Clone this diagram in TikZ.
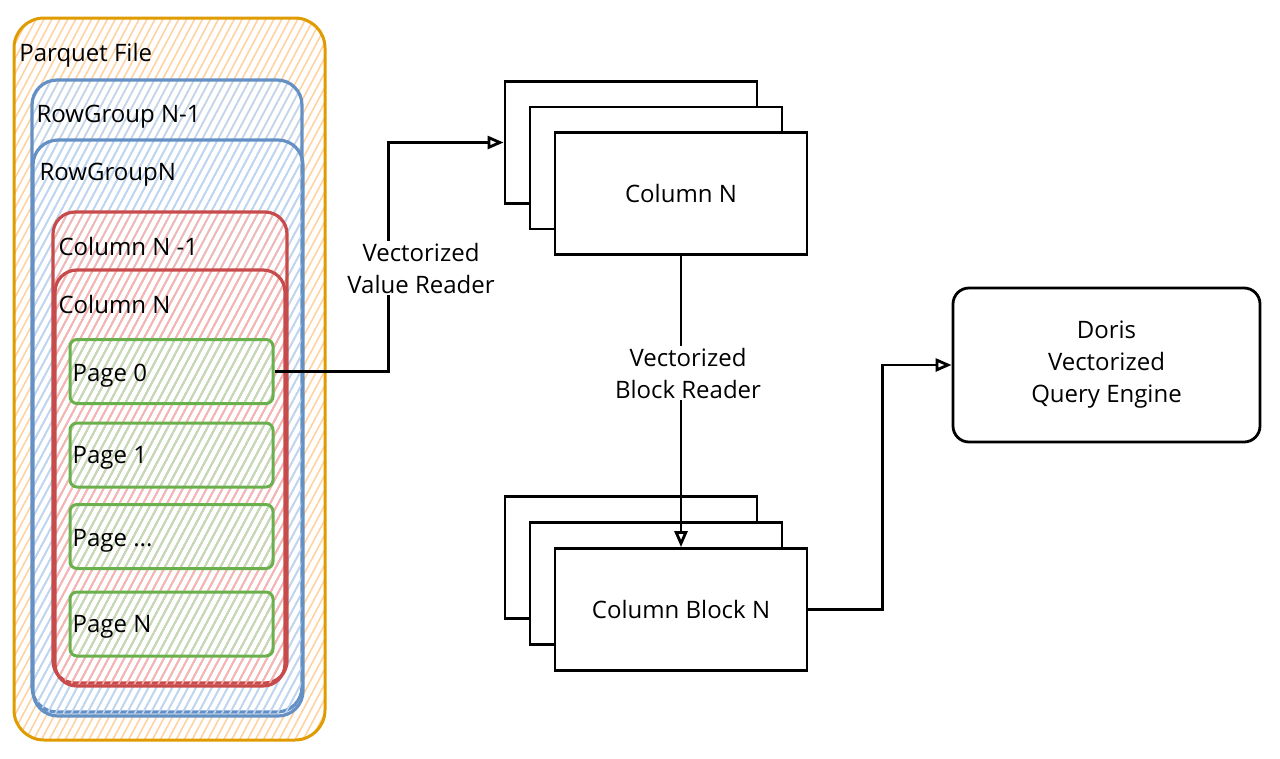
\documentclass[tikz,border=0pt]{standalone}
\usepackage{fontspec}
\setmainfont{Open Sans}
\usetikzlibrary{arrows.meta,patterns.meta,positioning,calc}

\definecolor{pqorange}{HTML}{E09B00}
\definecolor{pqorangefill}{HTML}{FFD2A0}
\definecolor{rgblue}{HTML}{6590C4}
\definecolor{rgbluefill}{HTML}{BCD6F5}
\definecolor{clred}{HTML}{C84B4B}
\definecolor{clredfill}{HTML}{F9B4B0}
\definecolor{pggreen}{HTML}{6AB04C}
\definecolor{pggreenfill}{HTML}{BCE0B6}

\tikzset{
  hatch/.style={pattern={Lines[angle=62,distance=7pt,line width=1.6pt]},pattern color=#1},
  pqbox/.style={draw=pqorange,line width=3pt,rounded corners=30pt,hatch=pqorangefill},
  rgbox/.style={draw=rgblue,line width=3.2pt,rounded corners=25pt,hatch=rgbluefill},
  clbox/.style={draw=clred,line width=3.2pt,rounded corners=22pt,hatch=clredfill},
  pgbox/.style={draw=pggreen,line width=3pt,rounded corners=7pt,hatch=pggreenfill,
    minimum width=203pt,minimum height=64pt},
  stackbox/.style={draw,line width=2.8pt,fill=white,minimum width=252pt,minimum height=122pt},
  lbl/.style={anchor=west,inner sep=0pt},
  flowlbl/.style={fill=white,align=center,inner sep=2pt},
  arr/.style={line width=2.8pt,-{Triangle[open,length=16pt,width=13pt]}},
}

\begin{document}
\begin{tikzpicture}[x=1pt,y=-1pt,font=\fontsize{24}{32}\selectfont]
\useasboundingbox (0,0) rectangle (1280,758);

% parquet file and its parts
\node[pqbox,minimum width=311pt,minimum height=722pt] (pf) at (169.5,379) {};
\node[rgbox,minimum width=270pt,minimum height=632pt] (rg1) at (167,396) {};
\node[rgbox,minimum width=270pt,minimum height=576pt] (rg2) at (168,428) {};
\node[clbox,minimum width=234pt,minimum height=471pt] (cl1) at (170,447.5) {};
\node[clbox,minimum width=230pt,minimum height=416pt] (cl2) at (170,478) {};
\node[lbl] (pflbl) at ([shift={(6,38)}]pf.north west) {Parquet File};
\node[lbl] (rg1lbl) at ([shift={(6,38)}]rg1.north west) {RowGroup N-1};
\node[lbl] (rg2lbl) at ([shift={(8,36)}]rg2.north west) {RowGroupN};
\node[lbl] (cl1lbl) at ([shift={(7,36)}]cl1.north west) {Column N -1};
\node[lbl] (cl2lbl) at ([shift={(5,36)}]cl2.north west) {Column N};

\node[pgbox] (p0) at (171.5,371.5) {};
\node[pgbox] (p1) at (171.5,455) {};
\node[pgbox] (p2) at (171.5,536.5) {};
\node[pgbox] (p3) at (171.5,624) {};
\node[lbl] (p0lbl) at ([shift={(4,4)}]p0.west) {Page 0};
\node[lbl] (p1lbl) at ([shift={(4,3)}]p1.west) {Page 1};
\node[lbl] (p2lbl) at ([shift={(4,4)}]p2.west) {Page ...};
\node[lbl] (p3lbl) at ([shift={(4,3)}]p3.west) {Page N};

% column stack
\node[stackbox] (col1) at (631,142.5) {};
\node[stackbox] (col2) at ([shift={(25,25.5)}]col1.center) {};
\node[stackbox] (col3) at ([shift={(25,25.5)}]col2.center) {Column N};

% column block stack
\node[stackbox] (blk1) at (631,557.5) {};
\node[stackbox] (blk2) at ([shift={(25,26)}]blk1.center) {};
\node[stackbox] (blk3) at ([shift={(25,26)}]blk2.center) {Column Block N};

\node[draw,line width=2.8pt,rounded corners=16pt,align=center,
  minimum width=307pt,minimum height=154pt] (doris) at (1106.5,365)
  {Doris\\Vectorized\\Query Engine};

% connectors
\draw[arr] (p0.east) -- ++(114,0) |- (col1.west);
\draw[arr] (col3.south) -- (blk3.north);
\draw[arr] (blk3.east) -- ++(74,0) |- (doris.west);

\node[flowlbl] (vrlbl) at (421,268) {Vectorized\\Value Reader};
\node[flowlbl] (brlbl) at (688,373) {Vectorized\\Block Reader};
\end{tikzpicture}
\end{document}
